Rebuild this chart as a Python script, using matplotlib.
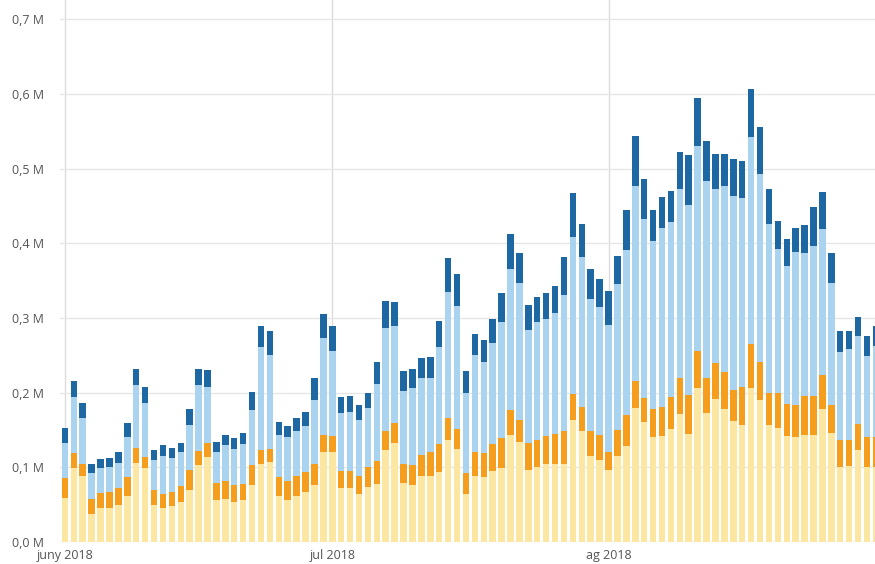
import numpy as np
import pandas as pd
import matplotlib
matplotlib.use("Agg")
import matplotlib.pyplot as plt
from matplotlib.ticker import FuncFormatter

# daily values, thousands, 1 jun 2018 - 31 aug 2018 (stack order bottom -> top)
dates = pd.date_range("2018-06-01", "2018-08-31", freq="D")

yellow = [59, 99, 89, 38, 45, 46, 50, 62, 106, 99, 50, 46, 48, 54, 70, 103,
          114, 56, 57, 54, 56, 76, 104, 107, 61, 56, 62, 67, 76, 120, 121, 72,
          72, 64, 74, 78, 123, 133, 79, 76, 88, 88, 94, 137, 125, 64, 88, 87,
          95, 99, 143, 134, 96, 101, 104, 105, 105, 163, 149, 115, 110, 96, 115,
          129, 180, 161, 140, 142, 151, 171, 144, 206, 173, 191, 178, 162, 157,
          206, 190, 157, 153, 142, 141, 143, 143, 178, 146, 100, 102, 123, 100, 100]
orange = [27, 20, 15, 20, 21, 21, 22, 25, 20, 15, 20, 18, 19, 21, 26, 19,
          18, 23, 24, 22, 22, 27, 19, 17, 26, 25, 26, 27, 28, 23, 21, 23,
          23, 24, 27, 30, 25, 26, 26, 27, 29, 32, 37, 29, 26, 29, 32, 32,
          36, 40, 34, 30, 37, 36, 38, 40, 43, 35, 32, 34, 33, 25, 35,
          41, 35, 32, 38, 39, 43, 49, 53, 50, 46, 49, 49, 42, 50,
          59, 51, 43, 47, 43, 43, 52, 52, 46, 37, 37, 35, 35, 40, 40]
light_blue = [46, 75, 62, 34, 33, 34, 34, 54, 84, 72, 40, 51, 45, 45, 61, 88,
              76, 42, 49, 48, 53, 74, 138, 126, 56, 59, 61, 61, 86, 130, 114, 78,
              79, 76, 79, 104, 139, 130, 97, 103, 102, 100, 130, 169, 165, 107, 131, 122,
              135, 155, 189, 183, 151, 157, 157, 162, 183, 210, 200, 176, 171, 170, 195,
              221, 261, 239, 225, 240, 235, 252, 254, 274, 264, 233, 250, 259, 253,
              277, 252, 226, 192, 184, 204, 192, 201, 195, 164, 118, 122, 118, 109, 122]
dark_blue = [20, 21, 20, 13, 12, 12, 14, 18, 21, 22, 13, 15, 14, 13, 21, 22,
             22, 13, 13, 15, 15, 24, 28, 32, 17, 15, 17, 19, 29, 32, 33, 21,
             21, 20, 19, 29, 35, 32, 27, 25, 27, 28, 35, 45, 43, 29, 27, 30,
             33, 39, 47, 40, 33, 34, 35, 36, 50, 59, 45, 41, 38, 45, 38,
             53, 67, 54, 42, 41, 41, 50, 67, 65, 54, 46, 43, 50, 50,
             64, 63, 47, 38, 36, 33, 37, 52, 49, 40, 27, 24, 25, 27, 27]

month_starts = ["2018-06-01", "2018-07-01", "2018-08-01"]
month_labels = ["juny 2018", "jul 2018", "ag 2018"]

series = [yellow, orange, light_blue, dark_blue]
colors = ["#fbe7a2", "#f59d1c", "#a9d3ef", "#1d67a2"]

plt.rcParams["font.family"] = ["Open Sans", "DejaVu Sans"]

fig = plt.figure(figsize=(8.75, 5.64), dpi=100)
ax = fig.add_axes([0.0691, 0.039, 0.9309, 0.961])

x = np.arange(len(dates))
bottom = np.zeros(len(dates))
for vals, col in zip(series, colors):
    v = np.array(vals) / 1000.0
    ax.bar(x, v, width=0.73, bottom=bottom, color=col, linewidth=0, zorder=2)
    bottom += v

tick_pos = [dates.get_loc(pd.Timestamp(d)) for d in month_starts]
ax.set_xticks(tick_pos)
ax.set_xticklabels(month_labels)
ax.set_xlim(-0.5, 90.9)

ax.set_ylim(0, 0.7256)
ax.set_yticks(np.arange(0, 0.71, 0.1))
ax.yaxis.set_major_formatter(FuncFormatter(lambda v, p: f"{v:.1f} M".replace(".", ",")))

for s in ax.spines.values():
    s.set_visible(False)
ax.grid(axis="y", color="#e6e6e6", linewidth=1, zorder=0)
ax.grid(axis="x", color="#dcdcdc", linewidth=1, zorder=0)
ax.tick_params(length=0, labelsize=9, labelcolor="#555555")
ax.tick_params(axis="y", pad=12)
ax.tick_params(axis="x", pad=5)

fig.savefig("out.png", dpi=100)
